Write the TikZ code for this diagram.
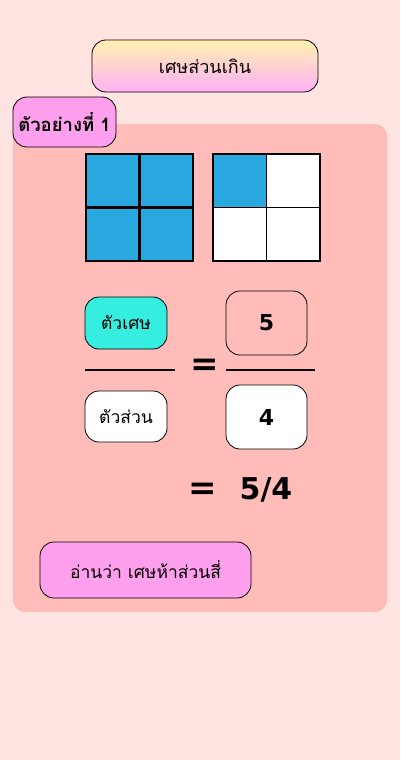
\documentclass[tikz,border=0pt]{standalone}
\usepackage{fontspec}
\newfontfamily\thaifont[Script=Thai]{Loma}
\newfontfamily\numfont{DejaVu Sans}
\usepackage{tikz}
\definecolor{bgpink}{HTML}{FFE4E1}
\definecolor{panelpink}{HTML}{FFBCB8}
\definecolor{cellblue}{HTML}{29A8E0}
\definecolor{turq}{HTML}{36EEDF}
\definecolor{violetpink}{HTML}{FFA0EE}
\definecolor{titletop}{HTML}{FFF2B0}
\definecolor{titlebot}{HTML}{FFB0F5}
\tikzset{
  roundbox/.style={draw=black, rounded corners=14pt, inner sep=0pt, thick},
  thaitext/.style={font=\thaifont\fontsize{17.5}{20}\selectfont},
  bignum/.style={font=\numfont\bfseries\fontsize{22}{26}\selectfont},
  eqmark/.style={font=\numfont\bfseries\fontsize{34}{36}\selectfont, inner sep=0pt},
}
\begin{document}
\begin{tikzpicture}[x=1pt,y=-1pt]
\fill [bgpink] (0,0) rectangle (400,760);
\useasboundingbox (0,0) rectangle (400,760);
\fill [panelpink, rounded corners=12pt] (13,124) rectangle (387,612);
\node [roundbox, thaitext, top color=titletop, bottom color=titlebot, minimum width=226pt, minimum height=52pt] (title) at (205,66) {\fontsize{18}{20}\selectfont เศษส่วนเกิน};
\node [roundbox, thaitext, fill=violetpink, minimum width=103pt, minimum height=50pt] (example) at (64.5,122) {\bfseries\fontsize{18.5}{20}\selectfont ตัวอย่างที่ 1};
\fill [cellblue] (86,154) rectangle (193,261);
\draw [black, line width=2.5pt] (86,154) rectangle (193,261);
\draw [black, line width=2.5pt] (139.5,154) -- (139.5,261);
\draw [black, line width=2.5pt] (86,207.5) -- (193,207.5);
\fill [white] (213,154) rectangle (320,261);
\fill [cellblue] (213,154) rectangle (266.5,207.5);
\draw [black, line width=1.3pt] (213,154) rectangle (320,261);
\draw [black, line width=1.3pt] (266.5,154) -- (266.5,261);
\draw [black, line width=1.3pt] (213,207.5) -- (320,207.5);
\node [roundbox, thaitext, fill=turq, minimum width=82pt, minimum height=52pt] (numer) at (126,323) {ตัวเศษ};
\node [roundbox, thaitext, fill=white, minimum width=82pt, minimum height=51pt] (denom) at (126,416.5) {ตัวส่วน};
\coordinate (barleft) at (85,370);
\coordinate (barright) at (175,370);
\draw [black, line width=2.5pt] (barleft) -- (barright);
\node [eqmark] (eqsign) at (205,367) {=};
\node [roundbox, bignum, minimum width=81pt, minimum height=64pt] (five) at (266.5,323) {5};
\node [roundbox, bignum, fill=white, minimum width=81pt, minimum height=64pt] (four) at (266.5,417) {4};
\coordinate (fbarleft) at (226,370);
\coordinate (fbarright) at (315,370);
\draw [black, line width=2.5pt] (fbarleft) -- (fbarright);
\node [eqmark] (eqtwo) at (203,491) {=};
\node [font=\numfont\bfseries\fontsize{30}{32}\selectfont, inner sep=0pt] (result) at (266,490) {5/4};
\node [roundbox, thaitext, fill=violetpink, minimum width=211pt, minimum height=56pt] (reading) at (145.5,570) {อ่านว่า เศษห้าส่วนสี่};
\end{tikzpicture}
\end{document}
